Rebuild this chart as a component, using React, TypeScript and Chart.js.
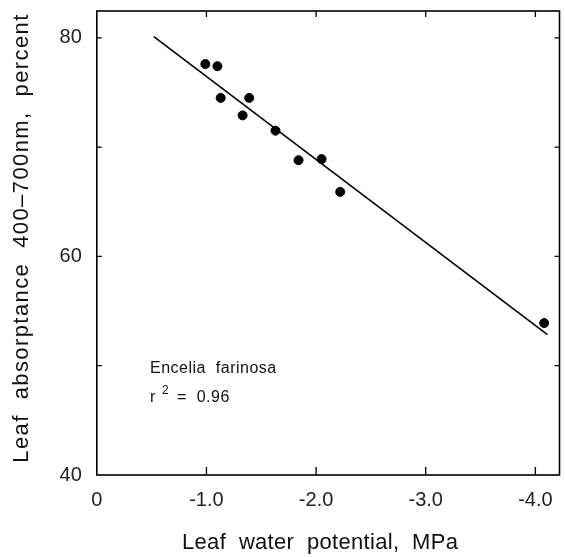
import React, { useEffect, useRef } from "react";
import { Chart, registerables } from "chart.js";

Chart.register(...registerables);

// Data
const waterPotential = [-0.99, -1.1, -1.13, -1.39, -1.33, -1.63, -1.84, -2.05, -2.22, -4.08];
const absorptance = [77.6, 77.4, 74.5, 74.5, 72.9, 71.5, 68.8, 68.9, 65.9, 53.9];
const fitX = [-0.52, -4.11];
const fitY = [80.1, 52.85];
const xTicks = [0, -1, -2, -3, -4];
const yTicks = [40, 50, 60, 70, 80];
const yLabeled = [40, 60, 80];
const xTitle = "Leaf  water  potential,  MPa";
const yTitle = "Leaf  absorptance  400\u2013700nm,  percent";
const speciesLabel = "Encelia  farinosa";
const rSquared = "0.96";

const FONT = "'Liberation Sans', Arial, sans-serif";

const framePlugin = {
  id: "frame",
  afterDatasetsDraw(chart: any) {
    const { ctx, chartArea, scales } = chart;
    const { left, right, top, bottom } = chartArea;
    const xs = scales.x;
    const ys = scales.y;
    ctx.save();
    ctx.strokeStyle = "#000";
    ctx.lineWidth = 1.6;
    ctx.strokeRect(left, top, right - left, bottom - top);
    ctx.lineWidth = 1.3;
    ctx.beginPath();
    for (const v of xTicks) {
      if (v === 0) continue;
      const px = xs.getPixelForValue(v);
      ctx.moveTo(px, bottom);
      ctx.lineTo(px, bottom - 8);
      ctx.moveTo(px, top);
      ctx.lineTo(px, top + 6);
    }
    for (const v of yTicks) {
      if (v === 40) continue;
      const py = ys.getPixelForValue(v);
      ctx.moveTo(left, py);
      ctx.lineTo(left + 5, py);
      ctx.moveTo(right, py);
      ctx.lineTo(right - 5, py);
    }
    ctx.stroke();

    // annotation
    ctx.fillStyle = "#111";
    ctx.textBaseline = "alphabetic";
    ctx.textAlign = "left";
    const ax = xs.getPixelForValue(-0.485);
    const ay1 = ys.getPixelForValue(49.3);
    (ctx as any).letterSpacing = "0.5px";
    ctx.font = `16px ${FONT}`;
    ctx.fillText(speciesLabel, ax, ay1);
    const ay2 = ay1 + 29;
    ctx.fillText("r", ax, ay2);
    ctx.font = `12px ${FONT}`;
    ctx.fillText("2", ax + 12, ay2 - 8);
    ctx.font = `16px ${FONT}`;
    ctx.fillText("=  " + rSquared, ax + 27, ay2);

    // axis titles
    ctx.textAlign = "center";
    ctx.textBaseline = "middle";
    ctx.font = `22px ${FONT}`;
    (ctx as any).letterSpacing = "0.3px";
    ctx.fillText(xTitle, (left + right) / 2 - 8, 543);
    ctx.save();
    ctx.translate(22, 238);
    ctx.rotate(-Math.PI / 2);
    (ctx as any).letterSpacing = "1.4px";
    ctx.fillText(yTitle, 0, 0);
    ctx.restore();
    ctx.restore();
  },
};

export default function App() {
  const ref = useRef<HTMLCanvasElement>(null);
  useEffect(() => {
    if (!ref.current) return;
    const zeroPad = (s: any) => {
      s.paddingLeft = 0;
      s.paddingRight = 0;
      s.paddingTop = 0;
      s.paddingBottom = 0;
    };
    const chart = new Chart(ref.current, {
      type: "scatter",
      data: {
        datasets: [
          {
            type: "line",
            label: "fit",
            data: fitX.map((x, i) => ({ x, y: fitY[i] })),
            borderColor: "#000",
            borderWidth: 1.6,
            pointRadius: 0,
            fill: false,
          } as any,
          {
            label: "Encelia farinosa",
            data: waterPotential.map((x, i) => ({ x, y: absorptance[i] })),
            backgroundColor: "#000",
            borderColor: "#000",
            pointRadius: 4.5,
          },
        ],
      },
      plugins: [framePlugin],
      options: {
        animation: false,
        responsive: true,
        maintainAspectRatio: false,
        layout: { padding: { top: 11, right: 3, left: 0, bottom: 0 } },
        plugins: { legend: { display: false }, tooltip: { enabled: false } },
        scales: {
          x: {
            type: "linear",
            reverse: true,
            min: -4.22,
            max: 0,
            afterFit: (s: any) => {
              s.height = 557 - 475;
              zeroPad(s);
            },
            afterBuildTicks: (s: any) => {
              s.ticks = xTicks.map((v) => ({ value: v }));
            },
            grid: { display: false, drawTicks: false },
            border: { display: false },
            ticks: {
              padding: 13,
              color: "#222",
              font: { family: FONT, size: 20 },
              callback: (v: any) => (v === 0 ? "0" : Number(v).toFixed(1)),
            },
            title: { display: false },
          },
          y: {
            type: "linear",
            min: 40,
            max: 82.45,
            afterFit: (s: any) => {
              s.width = 96.8;
              zeroPad(s);
            },
            afterBuildTicks: (s: any) => {
              s.ticks = yLabeled.map((v) => ({ value: v }));
            },
            grid: { display: false, drawTicks: false },
            border: { display: false },
            ticks: {
              padding: 15,
              color: "#222",
              font: { family: FONT, size: 20 },
            },
            title: { display: false },
          },
        },
      },
    });
    return () => chart.destroy();
  }, []);
  return (
    <div style={{ position: "fixed", left: 0, top: 0, width: 565, height: 557, background: "#fff" }}>
      <canvas ref={ref} />
    </div>
  );
}
